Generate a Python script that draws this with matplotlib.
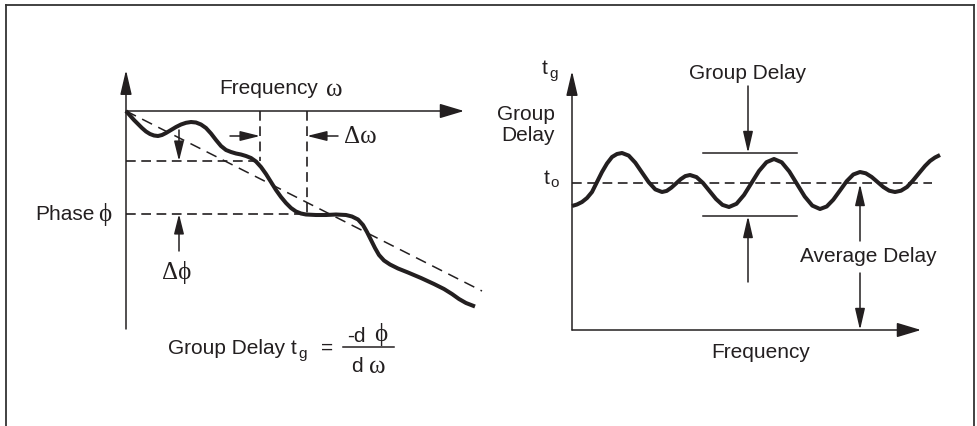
import matplotlib
matplotlib.use("Agg")
import matplotlib.pyplot as plt
from matplotlib.lines import Line2D

plt.rcParams['lines.scale_dashes'] = False

# ---------------- data ----------------
# Left panel: phase vs frequency (origin at the axes crossing, phase negative downward)
phase_freq = [0, 4, 8, 12, 16, 20, 24, 28, 32, 36, 40, 45, 50, 55, 60, 65, 70, 75, 80, 85,
              90, 95, 100, 105, 110, 115, 120, 125, 130, 135, 140, 145, 150, 155, 160, 165,
              170, 175, 180, 190, 200, 210, 220, 226, 232, 237, 241, 245, 249, 253, 258,
              264, 272, 282, 295, 308, 318, 326, 333, 340, 349]
phase_val = [0, -4.5, -9, -13, -17, -20.5, -23, -24.5, -25, -24, -22, -19, -16, -13.5,
             -11.8, -11, -11.5, -13.5, -17, -22.5, -29, -35, -39, -41, -42.5, -43.5, -45,
             -47, -50.5, -56, -63, -71, -79, -86, -92, -97, -100.5, -102.5, -103.5, -104,
             -104, -103.5, -104, -105.5, -108.5, -114, -121, -129, -137, -144, -149.5,
             -153.5, -157.5, -161.5, -167, -173, -178, -183, -188, -192, -195.5]
linear_phase_freq = [0, 356]
linear_phase_val = [0, -180]

# Right panel: group delay vs frequency
gd_freq = [0, 5, 10, 15, 20, 25, 30, 35, 40, 45, 50, 56.7, 63.3, 70, 76.7, 83.3, 90, 94.7,
           99.3, 104, 108.7, 113.3, 118, 124.5, 131, 137.5, 144, 150.5, 157, 164.5, 172,
           179.5, 187, 194.5, 202, 209.7, 217.3, 225, 232.7, 240.3, 248, 254.7, 261.3,
           268, 274.7, 281.3, 288, 293.8, 299.7, 305.5, 311.3, 317.2, 323, 329, 335, 341,
           348, 353, 358, 363, 368]
gd_val = [124, 125.5, 128, 132, 138, 148, 158, 166.5, 173, 176, 177, 174.4, 167.3, 157.5,
          147.8, 140.6, 138, 139.1, 142.3, 146.5, 150.8, 153.9, 155, 152.9, 147, 139, 131,
          125.1, 123, 126.2, 135, 147, 159, 167.8, 171, 167.7, 158.5, 146, 133.5, 124.4,
          121, 123.5, 130.3, 139.5, 148.8, 155.5, 158, 156.7, 153, 148, 143, 139.3, 138,
          139.3, 143, 149.5, 158, 164, 169, 172.5, 175]
avg_delay = 147
gd_max = 177
gd_min = 114

# Left-panel marker frequencies / phases
w1, w2 = 134, 181
p1, p2 = -50, -103

C = '#231f20'
SANS = ['Liberation Sans', 'DejaVu Sans']
SERIF = ['Liberation Serif', 'DejaVu Serif']
FS = 15

W, H = 978, 427
fig = plt.figure(figsize=(W / 100, H / 100), dpi=100)


def make_axes(px0, px1, py0, py1, ox, oy):
    ax = fig.add_axes([px0 / W, (H - py1) / H, (px1 - px0) / W, (py1 - py0) / H])
    ax.set_xlim(px0 - ox, px1 - ox)
    ax.set_ylim(oy - py1, oy - py0)
    ax.axis('off')
    return ax


def arrow(ax, start, end, scale=10, hl=1.3, hw=0.35, lw=1.1):
    ax.annotate('', xy=end, xytext=start,
                arrowprops=dict(arrowstyle=f'-|>,head_length={hl},head_width={hw}',
                                mutation_scale=scale, lw=lw, color=C, fc=C, ec=C,
                                shrinkA=0, shrinkB=0))


DASH = (0, (7, 4))

# ---------------- left panel ----------------
axL = make_axes(20, 500, 40, 390, 126, 112)
arrow(axL, (0, -218), (0, 41), hl=1.5, hw=0.35)
arrow(axL, (0, 0), (338, 0), hl=1.5, hw=0.45)
axL.plot(linear_phase_freq, linear_phase_val, color=C, lw=1.1, linestyle=(0, (8, 5)))
axL.plot([0, w1 - 3], [p1, p1], color=C, lw=1.2, linestyle=DASH)
axL.plot([0, w2], [p2, p2], color=C, lw=1.2, linestyle=DASH)
axL.plot([w1, w1], [0, p1], color=C, lw=1.2, linestyle=DASH)
axL.plot([w2, w2], [0, p2], color=C, lw=1.2, linestyle=DASH)
axL.plot(phase_freq, phase_val, color=C, lw=2.9, solid_joinstyle='round',
         solid_capstyle='butt')
arrow(axL, (w1 - 30, -25), (w1, -25), hl=1.2, hw=0.3)
arrow(axL, (w2 + 31, -25), (w2, -25), hl=1.2, hw=0.3)
arrow(axL, (53, -19), (53, p1), hl=1.2, hw=0.3)
arrow(axL, (53, -140), (53, p2), hl=1.2, hw=0.3)

axL.text(143, 24, 'Frequency', fontsize=FS, family=SANS, color=C, ha='center', va='center')
axL.text(208, 22, 'ω', fontsize=18, family=SERIF, color=C, ha='center', va='center')
axL.text(234, -25, 'Δω', fontsize=18, family=SERIF, color=C, ha='center', va='center')
axL.text(-91, -102, 'Phase', fontsize=FS, family=SANS, color=C, ha='left', va='center')
axL.text(-21, -103, 'ϕ', fontsize=18, family=SERIF, color=C, ha='center', va='center')
axL.text(51, -161, 'Δϕ', fontsize=18, family=SERIF, color=C, ha='center', va='center')
axL.text(42, -236, 'Group Delay t', fontsize=FS, family=SANS, color=C, ha='left', va='center')
axL.text(177, -242, 'g', fontsize=11, family=SANS, color=C, ha='center', va='center')
axL.text(201, -236, '=', fontsize=FS, family=SANS, color=C, ha='center', va='center')
axL.plot([217, 268], [-236, -236], color=C, lw=1.1)
axL.text(230, -224, '-d', fontsize=FS, family=SANS, color=C, ha='center', va='center')
axL.text(255, -223, 'ϕ', fontsize=18, family=SERIF, color=C, ha='center', va='center')
axL.text(231, -255, 'd', fontsize=FS, family=SANS, color=C, ha='center', va='center')
axL.text(251, -255, 'ω', fontsize=18, family=SERIF, color=C, ha='center', va='center')

# ---------------- right panel ----------------
axR = make_axes(500, 960, 40, 390, 572, 331)
arrow(axR, (0, 0), (0, 259), hl=1.5, hw=0.35)
arrow(axR, (0, 0), (349, 0), hl=1.5, hw=0.45)
axR.plot([0, 360], [avg_delay, avg_delay], color=C, lw=1.2, linestyle=DASH)
axR.plot(gd_freq, gd_val, color=C, lw=2.9, solid_joinstyle='round', solid_capstyle='butt')
axR.plot([131, 225], [gd_max, gd_max], color=C, lw=1.1)
axR.plot([131, 225], [gd_min, gd_min], color=C, lw=1.1)
arrow(axR, (176, 244), (176, gd_max), hl=1.3, hw=0.3)
arrow(axR, (176, 48), (176, gd_min), hl=1.3, hw=0.3)
arrow(axR, (288, 89), (288, avg_delay - 1), hl=1.3, hw=0.3)
arrow(axR, (288, 57), (288, 0), hl=1.3, hw=0.3)

axR.text(-27, 263, 't', fontsize=FS, family=SANS, color=C, ha='center', va='center')
axR.text(-18, 257, 'g', fontsize=11, family=SANS, color=C, ha='center', va='center')
axR.text(-17, 206, 'Group\nDelay', fontsize=FS, family=SANS, color=C, ha='right',
         va='center', linespacing=1.1)
axR.text(-25, 153, 't', fontsize=FS, family=SANS, color=C, ha='center', va='center')
axR.text(-17, 148, 'o', fontsize=11, family=SANS, color=C, ha='center', va='center')
axR.text(176, 258, 'Group Delay', fontsize=FS, family=SANS, color=C, ha='center', va='center')
axR.text(296, 75, 'Average Delay', fontsize=FS, family=SANS, color=C, ha='center',
         va='center', bbox=dict(fc='white', ec='none', pad=1))
axR.text(189, -22, 'Frequency', fontsize=FS, family=SANS, color=C, ha='center', va='center')

# ---------------- frame ----------------
bx0, bx1, by0 = 5.5 / W, 974.5 / W, (H - 5.5) / H
for xs, ys in [([bx0, bx0], [0, by0]), ([bx0, bx1], [by0, by0]), ([bx1, bx1], [by0, 0])]:
    fig.add_artist(Line2D(xs, ys, color='#333333', lw=1.3, transform=fig.transFigure))

fig.savefig('out.png', dpi=100, facecolor='white')
